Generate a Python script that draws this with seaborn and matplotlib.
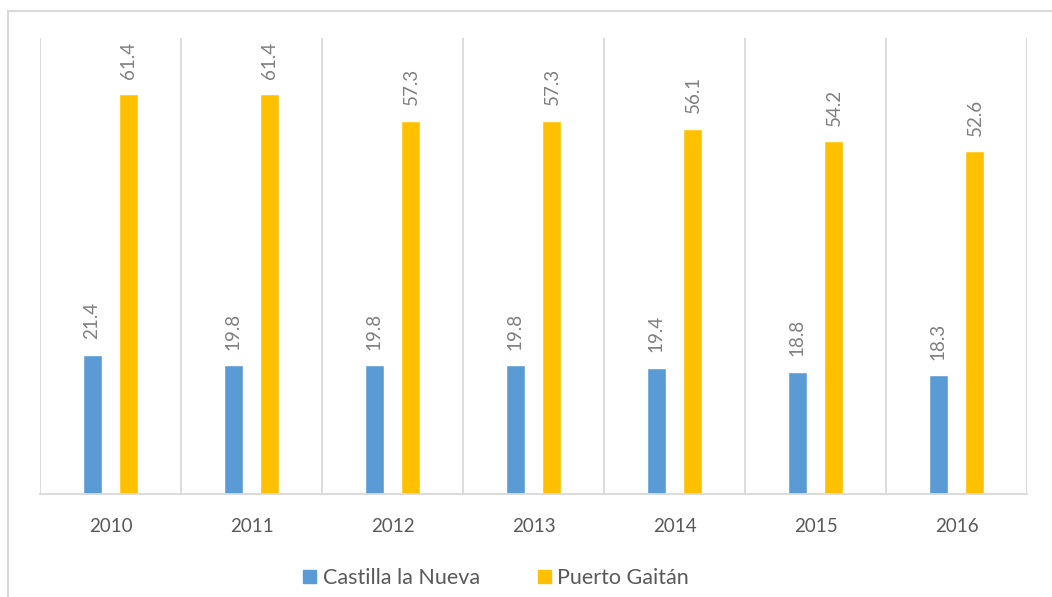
import pandas as pd
import matplotlib.pyplot as plt
import seaborn as sns
from matplotlib.patches import Rectangle

# data
years = ['2010', '2011', '2012', '2013', '2014', '2015', '2016']
castilla = [21.4, 19.8, 19.8, 19.8, 19.4, 18.8, 18.3]
gaitan = [61.4, 61.4, 57.3, 57.3, 56.1, 54.2, 52.6]
series = ['Castilla la Nueva', 'Puerto Gaitán']

df = pd.DataFrame({
    'year': years * 2,
    'value': castilla + gaitan,
    'serie': [series[0]] * len(years) + [series[1]] * len(years),
})

sns.set_style('white')
plt.rcParams['font.family'] = ['Lato', 'DejaVu Sans']

fig = plt.figure(figsize=(10.52, 5.97), dpi=100)
ax = fig.add_axes([40 / 1052, 1 - 494 / 597, 987 / 1052, 456 / 597])

sns.barplot(data=df, x='year', y='value', hue='serie', order=years,
            hue_order=series, palette=['#5B9BD5', '#FFC000'],
            width=0.524, gap=0.485, saturation=1, ax=ax)

# rotated value labels
for cont in ax.containers:
    ax.bar_label(cont, fmt='%.1f', rotation=90, padding=11,
                 color='#7f7f7f', fontsize=13.5)

ax.set_xlim(-0.5, len(years) - 0.5)
ax.set_ylim(0, 70)
ax.set_yticks([])
ax.set_xlabel('')
ax.set_ylabel('')

# vertical separators between categories
ax.set_xticks([i - 0.5 for i in range(len(years) + 1)], minor=True)
ax.grid(True, which='minor', axis='x', color='#d9d9d9', linewidth=1.3)
ax.tick_params(axis='x', which='both', length=0, pad=17,
               labelsize=13.5, labelcolor='#595959')

for side in ['top', 'right', 'left']:
    ax.spines[side].set_visible(False)
ax.spines['bottom'].set_color('#d9d9d9')
ax.spines['bottom'].set_linewidth(1.3)

ax.legend_.remove()
handles = [Rectangle((0, 0), 1, 1, color=c) for c in ['#5B9BD5', '#FFC000']]
fig.legend(handles, series, loc='center', bbox_to_anchor=(0.4715, 1 - 578 / 597),
           ncol=2, frameon=False, fontsize=15.5, labelcolor='#595959',
           handlelength=0.6, handleheight=0.6, handletextpad=0.3,
           columnspacing=2.7)

# light frame around the chart
fig.patches.append(Rectangle((8 / 1052, -0.1), 1.1, 1 - 11 / 597 + 0.1,
                             transform=fig.transFigure, fill=False,
                             edgecolor='#d9d9d9', linewidth=1.5))

fig.savefig('out.png', dpi=100)
